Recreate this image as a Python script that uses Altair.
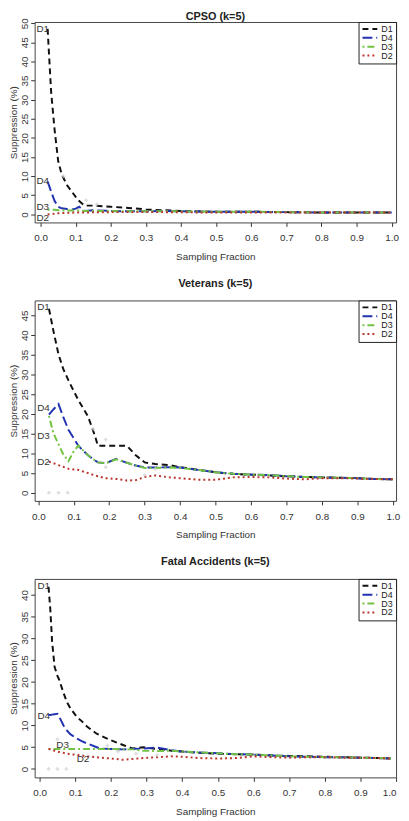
import altair as alt
import pandas as pd

SERIES = ["D1", "D4", "D3", "D2"]
COLORS = ["#111111", "#2232b0", "#72c244", "#b8362e"]
DASHES = [[6, 4], [10, 4], [2, 3, 7, 3], [2, 3]]
XTICKS = [0.0, 0.1, 0.2, 0.3, 0.4, 0.5, 0.6, 0.7, 0.8, 0.9, 1.0]

# ---------------- CPSO ----------------
cpso_x = [0.02, 0.03, 0.04, 0.05, 0.06, 0.075, 0.09, 0.10, 0.11, 0.125, 0.15, 0.20,
          0.25, 0.30, 0.35, 0.40, 0.50, 0.60, 0.70, 0.80, 0.90, 1.00]
cpso_d1 = [48.5, 32.0, 22.0, 14.0, 10.5, 7.7, 5.8, 4.6, 3.5, 2.3, 2.3, 2.0,
           1.7, 1.3, 1.1, 0.9, 0.7, 0.7, 0.6, 0.5, 0.5, 0.5]
cpso_d4 = [8.6, 6.0, 3.5, 2.0, 1.6, 1.4, 1.3, 1.5, 2.0, 0.9, 1.1, 0.9,
           0.8, 0.8, 0.9, 0.8, 0.7, 0.7, 0.6, 0.5, 0.5, 0.5]
cpso_d3 = [1.2, 1.2, 1.2, 1.1, 1.1, 1.0, 1.0, 1.0, 1.0, 0.9, 0.9, 0.9,
           0.8, 0.8, 0.8, 0.8, 0.7, 0.7, 0.6, 0.5, 0.5, 0.5]
cpso_d2 = [0.0, 0.1, 0.2, 0.3, 0.35, 0.4, 0.45, 0.5, 0.5, 0.5, 0.55, 0.6,
           0.6, 0.6, 0.6, 0.55, 0.5, 0.5, 0.5, 0.5, 0.5, 0.5]
cpso_yticks = [0, 5, 10, 15, 20, 25, 30, 35, 40, 45, 50]
cpso_lab_x = [-0.012, -0.012, -0.012, -0.012]
cpso_lab_y = [48.5, 8.6, 1.9, -0.9]
cpso_grey_x = [0.065, 0.13, 0.16]
cpso_grey_y = [10.0, 3.7, 2.6]

# ---------------- Veterans ----------------
vet_x = [0.03, 0.043, 0.057, 0.07, 0.085, 0.10, 0.113, 0.14, 0.16, 0.168, 0.19, 0.22,
         0.25, 0.275, 0.30, 0.33, 0.37, 0.40, 0.45, 0.50, 0.55, 0.60, 0.65, 0.70,
         0.75, 0.80, 0.85, 0.90, 0.95, 1.00]
vet_d1 = [46.7, 40.9, 35.1, 31.5, 28.5, 25.8, 23.5, 19.4, 14.4, 11.9, 11.9, 11.9,
          11.9, 9.5, 7.7, 7.3, 7.0, 6.5, 5.8, 5.2, 4.8, 4.6, 4.4, 4.2,
          4.0, 3.9, 3.8, 3.7, 3.5, 3.4]
vet_d4 = [19.8, 21.2, 22.5, 19.3, 16.0, 13.8, 11.9, 9.5, 8.2, 7.7, 7.5, 8.6,
          7.6, 6.9, 6.4, 6.4, 6.5, 6.4, 5.8, 5.2, 4.8, 4.6, 4.5, 4.2,
          4.0, 3.9, 3.8, 3.7, 3.5, 3.4]
vet_d3 = [19.5, 15.0, 12.3, 9.8, 8.0, 10.5, 12.0, 9.5, 8.2, 7.7, 7.5, 8.5,
          7.6, 6.9, 6.3, 6.3, 6.4, 6.3, 5.8, 5.2, 4.8, 4.6, 4.5, 4.2,
          4.0, 3.9, 3.8, 3.7, 3.5, 3.4]
vet_d2 = [7.9, 7.5, 7.0, 6.6, 6.1, 5.9, 5.8, 5.0, 4.4, 4.2, 3.7, 3.5,
          3.1, 3.2, 4.0, 4.4, 3.9, 3.7, 3.3, 3.3, 3.9, 4.0, 3.9, 3.6,
          3.4, 3.7, 3.7, 3.6, 3.5, 3.4]
vet_yticks = [0, 5, 10, 15, 20, 25, 30, 35, 40, 45]
vet_lab_x = [-0.003, -0.003, -0.003, -0.003]
vet_lab_y = [47.2, 21.4, 14.5, 7.9]
vet_grey_x = [0.03, 0.057, 0.083, 0.155, 0.19, 0.19, 0.30, 0.33]
vet_grey_y = [0.0, 0.0, 0.0, 16.2, 13.5, 6.5, 4.5, 6.0]

# ---------------- Fatal Accidents ----------------
fat_x = [0.025, 0.03, 0.035, 0.042, 0.05, 0.055, 0.067, 0.077, 0.086, 0.104, 0.118,
         0.132, 0.16, 0.17, 0.20, 0.234, 0.26, 0.29, 0.33, 0.37, 0.40, 0.45, 0.50,
         0.55, 0.60, 0.65, 0.70, 0.75, 0.80, 0.85, 0.90, 0.95, 0.985]
fat_d1 = [41.9, 36.7, 29.3, 23.5, 21.4, 20.5, 17.5, 15.3, 14.0, 12.0, 11.0,
          9.8, 8.1, 7.7, 6.6, 5.5, 4.7, 5.0, 4.6, 4.2, 4.0, 3.7, 3.5,
          3.4, 3.3, 3.1, 3.0, 2.9, 2.8, 2.7, 2.6, 2.5, 2.4]
fat_d4 = [12.4, 12.4, 12.5, 12.6, 12.7, 12.0, 10.0, 8.8, 8.0, 7.0, 6.4,
          5.9, 5.0, 4.7, 4.6, 4.5, 4.6, 4.7, 4.9, 4.3, 4.0, 3.8, 3.6,
          3.4, 3.3, 3.1, 2.9, 2.8, 2.7, 2.7, 2.6, 2.5, 2.4]
fat_d3 = [4.6, 4.6, 4.6, 4.6, 4.6, 4.6, 4.6, 4.6, 4.6, 4.6, 4.6,
          4.6, 4.6, 4.6, 4.6, 4.5, 4.5, 4.2, 4.1, 4.2, 4.0, 3.8, 3.6,
          3.4, 3.3, 3.1, 2.9, 2.8, 2.7, 2.7, 2.6, 2.5, 2.4]
fat_d2 = [4.6, 4.5, 4.4, 4.2, 4.0, 3.9, 3.7, 3.5, 3.4, 3.25, 3.1,
          2.9, 2.7, 2.6, 2.4, 2.1, 2.3, 2.5, 2.7, 2.9, 2.8, 2.5, 2.4,
          2.5, 2.9, 2.7, 2.6, 2.7, 2.7, 2.6, 2.6, 2.5, 2.4]
fat_yticks = [0, 5, 10, 15, 20, 25, 30, 35, 40]
fat_lab_x = [-0.006, -0.006, 0.047, 0.104]
fat_lab_y = [42.1, 12.1, 5.6, 2.2]
fat_grey_x = [0.025, 0.05, 0.075, 0.05, 0.19, 0.22, 0.27, 0.33]
fat_grey_y = [0.0, 0.0, 0.0, 6.8, 5.4, 4.0, 3.5, 3.2]

FONT = "Liberation Sans"


def panel(title, x, d1, d4, d3, d2, lab_x, lab_y, grey_x, grey_y,
          xdom, ydom, yticks, h, toff):
    rows = []
    for name, vals in zip(SERIES, [d1, d4, d3, d2]):
        for xi, yi in zip(x, vals):
            rows.append({"x": xi, "y": yi, "series": name})
    df = pd.DataFrame(rows)
    labels = pd.DataFrame({"x": lab_x, "y": lab_y, "series": SERIES})
    grey = pd.DataFrame({"x": grey_x, "y": grey_y})

    xs = alt.Scale(domain=xdom, nice=False, zero=False)
    ys = alt.Scale(domain=ydom, nice=False, zero=False)
    xax = alt.Axis(values=XTICKS, format=".1f",
                   title="Sampling Fraction", tickSize=4, labelPadding=6.5,
                   titlePadding=9, labelOverlap=False, minExtent=0,
                   labelFlush=3)
    yax = alt.Axis(values=yticks, title="Suppression (%)", labelAngle=-90,
                   labelAlign="center", labelBaseline="bottom", tickSize=4,
                   labelPadding=1, titlePadding=1, minExtent=0,
                   labelOverlap=False)
    leg = alt.Legend(title=None, orient="top-right", offset=0,
                     strokeColor="#222", padding=3, symbolType="stroke",
                     symbolSize=225, symbolStrokeWidth=2, labelFontSize=9,
                     labelFont=FONT, rowPadding=0, clipHeight=8, labelOffset=3,
                     cornerRadius=0, fillColor="white", labelColor="#222")

    X = alt.X("x:Q", scale=xs, axis=xax)
    Y = alt.Y("y:Q", scale=ys, axis=yax)
    lines = alt.Chart(df).mark_line(strokeWidth=2).encode(
        x=X, y=Y,
        color=alt.Color("series:N", sort=SERIES,
                        scale=alt.Scale(domain=SERIES, range=COLORS), legend=leg),
        strokeDash=alt.StrokeDash("series:N", sort=SERIES,
                                  scale=alt.Scale(domain=SERIES, range=DASHES),
                                  legend=leg),
    )
    pts = alt.Chart(grey).mark_point(shape="cross", size=14, filled=True,
                                     color="#cfcfcf").encode(x=X, y=Y)
    txt = alt.Chart(labels).mark_text(align="left", baseline="middle",
                                      fontSize=10, font=FONT, color="#333").encode(
        x=X, y=Y, text="series:N")
    return alt.layer(lines, pts, txt).properties(
        width=366, height=h,
        title=alt.TitleParams(title, fontSize=11, fontWeight="bold", font=FONT,
                              offset=toff, anchor="middle", color="#222"))


p1 = panel("CPSO (k=5)", cpso_x, cpso_d1, cpso_d4, cpso_d3, cpso_d2,
           cpso_lab_x, cpso_lab_y, cpso_grey_x, cpso_grey_y,
           [-0.0169, 1.0124], [-2.1, 50.3], cpso_yticks, 203, -4)
p2 = panel("Veterans (k=5)", vet_x, vet_d1, vet_d4, vet_d3, vet_d2,
           vet_lab_x, vet_lab_y, vet_grey_x, vet_grey_y,
           [-0.0103, 1.0092], [-2.07, 48.8], vet_yticks, 203, 11.5)
p3 = panel("Fatal Accidents (k=5)", fat_x, fat_d1, fat_d4, fat_d3, fat_d2,
           fat_lab_x, fat_lab_y, fat_grey_x, fat_grey_y,
           [-0.0139, 1.0], [-1.94, 43.7], fat_yticks, 201, 11.5)

chart = alt.vconcat(p1, p2, p3, spacing=15).resolve_legend(
    color="independent", strokeDash="independent"
).resolve_scale(
    x="independent", y="independent", color="independent", strokeDash="independent"
).properties(
    padding={"left": 0, "top": -3, "right": 0, "bottom": 0}
).configure_axis(
    grid=False, domain=False, tickColor="#333", labelColor="#333",
    titleColor="#333", labelFont=FONT, titleFont=FONT, labelFontSize=10,
    titleFontSize=10, titleFontWeight="normal"
).configure_view(stroke="#444", strokeWidth=1)

chart.save("out.html", embed_options={"renderer": "svg", "actions": False})
